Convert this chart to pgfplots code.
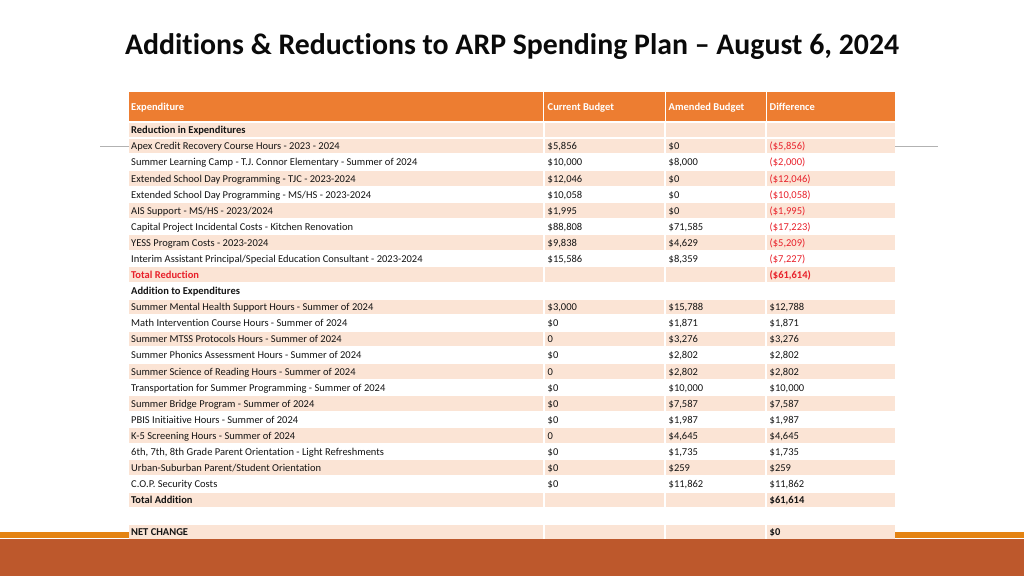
\documentclass[border=0pt]{standalone}
\usepackage{pgfplots}
\pgfplotsset{compat=1.18}
\usepackage{fontspec}
\setmainfont{Carlito}[Ligatures={TeX,NoCommon}]
\definecolor{hdr}{HTML}{ED7D31}
\definecolor{shd}{HTML}{FBE4D5}
\definecolor{rust}{HTML}{BD582C}
\definecolor{orl}{HTML}{E48312}
\definecolor{neg}{HTML}{E8202A}
\definecolor{ttl}{HTML}{0A0A0A}
\definecolor{bodyc}{HTML}{141414}
\newcommand\rt[1]{(122+16.08*#1)}
\newcommand\bodyfont{\fontsize{10.5}{12}\selectfont}
\newcommand\shaderow[1]{%
  \fill[shd] (axis cs:129,{\rt{#1}+0.7}) rectangle (axis cs:542.6,{\rt{#1}+15.4});
  \fill[shd] (axis cs:544.6,{\rt{#1}+0.7}) rectangle (axis cs:664.2,{\rt{#1}+15.4});
  \fill[shd] (axis cs:666.2,{\rt{#1}+0.7}) rectangle (axis cs:765.4,{\rt{#1}+15.4});
  \fill[shd] (axis cs:767.4,{\rt{#1}+0.7}) rectangle (axis cs:895,{\rt{#1}+15.4});
}
\newcommand\cell[4][]{\node[anchor=base west,inner sep=0pt,font=\bodyfont,text=bodyc,#1] at (axis cs:#2,{\rt{#3}+11.8}) {#4};}
\newcommand\datarow[6][]{%
  \cell{131}{#2}{#3}\cell{547.5}{#2}{#4}\cell{668.5}{#2}{#5}\cell[#1]{769.5}{#2}{#6}}
\newcommand\hcell[2]{\node[anchor=base west,inner sep=0pt,text=white,font=\fontsize{10.5}{12}\selectfont\bfseries] at (axis cs:#1,110.5) {#2};}
\begin{document}
\begin{tikzpicture}
\begin{axis}[
  width=1024pt, height=576pt, scale only axis,
  xmin=0, xmax=1024, ymin=0, ymax=576, y dir=reverse,
  hide axis, clip=false]
\addplot[draw=none, forget plot] coordinates {(0,0) (1024,576)};
% title
\node[anchor=center, text=ttl, font=\fontsize{29.8}{34}\selectfont\bfseries] at (axis cs:512,47) {Additions \& Reductions to ARP Spending Plan -- August 6, 2024};
% decorative lines
\draw[gray!60, line width=1pt] (axis cs:100,146) -- (axis cs:129,146);
\draw[gray!60, line width=1pt] (axis cs:895,146) -- (axis cs:938,146);
% bottom
\fill[orl] (axis cs:0,532) rectangle (axis cs:129,537.5);
\fill[orl] (axis cs:895,532) rectangle (axis cs:1024,537.5);
\fill[rust] (axis cs:0,539.3) rectangle (axis cs:1024,576);
% header
\fill[hdr] (axis cs:129,92) rectangle (axis cs:542.6,120.5);
\fill[hdr] (axis cs:544.2,92) rectangle (axis cs:664.6,120.5);
\fill[hdr] (axis cs:666.2,92) rectangle (axis cs:765.8,120.5);
\fill[hdr] (axis cs:767.4,92) rectangle (axis cs:895,120.5);
\hcell{131}{Expenditure}
\hcell{547.5}{Current Budget}
\hcell{668.5}{Amended Budget}
\hcell{769.5}{Difference}
% shading
\shaderow{0}\shaderow{1}\shaderow{3}\shaderow{5}\shaderow{7}\shaderow{9}
\shaderow{11}\shaderow{13}\shaderow{15}\shaderow{17}\shaderow{19}\shaderow{21}
\shaderow{23}\shaderow{25}
% rows
\cell[font=\bodyfont\bfseries]{131}{0}{Reduction in Expenditures}
\datarow[text=neg]{1}{Apex Credit Recovery Course Hours - 2023 - 2024}{\$5,856}{\$0}{(\$5,856)}
\datarow[text=neg]{2}{Summer Learning Camp - T.J. Connor Elementary - Summer of 2024}{\$10,000}{\$8,000}{(\$2,000)}
\datarow[text=neg]{3}{Extended School Day Programming - TJC - 2023-2024}{\$12,046}{\$0}{(\$12,046)}
\datarow[text=neg]{4}{Extended School Day Programming - MS/HS - 2023-2024}{\$10,058}{\$0}{(\$10,058)}
\datarow[text=neg]{5}{AIS Support - MS/HS - 2023/2024}{\$1,995}{\$0}{(\$1,995)}
\datarow[text=neg]{6}{Capital Project Incidental Costs - Kitchen Renovation}{\$88,808}{\$71,585}{(\$17,223)}
\datarow[text=neg]{7}{YESS Program Costs - 2023-2024}{\$9,838}{\$4,629}{(\$5,209)}
\datarow[text=neg]{8}{Interim Assistant Principal/Special Education Consultant - 2023-2024}{\$15,586}{\$8,359}{(\$7,227)}
\cell[font=\bodyfont\bfseries,text=neg]{131}{9}{Total Reduction}
\cell[font=\bodyfont\bfseries,text=neg]{769.5}{9}{(\$61,614)}
\cell[font=\bodyfont\bfseries]{131}{10}{Addition to Expenditures}
\datarow{11}{Summer Mental Health Support Hours - Summer of 2024}{\$3,000}{\$15,788}{\$12,788}
\datarow{12}{Math Intervention Course Hours - Summer of 2024}{\$0}{\$1,871}{\$1,871}
\datarow{13}{Summer MTSS Protocols Hours - Summer of 2024}{0}{\$3,276}{\$3,276}
\datarow{14}{Summer Phonics Assessment Hours - Summer of 2024}{\$0}{\$2,802}{\$2,802}
\datarow{15}{Summer Science of Reading Hours - Summer of 2024}{0}{\$2,802}{\$2,802}
\datarow{16}{Transportation for Summer Programming - Summer of 2024}{\$0}{\$10,000}{\$10,000}
\datarow{17}{Summer Bridge Program - Summer of 2024}{\$0}{\$7,587}{\$7,587}
\datarow{18}{PBIS Initiaitive Hours - Summer of 2024}{\$0}{\$1,987}{\$1,987}
\datarow{19}{K-5 Screening Hours - Summer of 2024}{0}{\$4,645}{\$4,645}
\datarow{20}{6th, 7th, 8th Grade Parent Orientation - Light Refreshments}{\$0}{\$1,735}{\$1,735}
\datarow{21}{Urban-Suburban Parent/Student Orientation}{\$0}{\$259}{\$259}
\datarow{22}{C.O.P. Security Costs}{\$0}{\$11,862}{\$11,862}
\cell[font=\bodyfont\bfseries]{131}{23}{Total Addition}
\cell[font=\bodyfont\bfseries]{769.5}{23}{\$61,614}
\cell[font=\bodyfont\bfseries]{131}{25}{NET CHANGE}
\cell[font=\bodyfont\bfseries]{769.5}{25}{\$0}
\end{axis}
\pgfresetboundingbox
\path (current axis.south west) rectangle (current axis.north east);
\end{tikzpicture}
\end{document}
